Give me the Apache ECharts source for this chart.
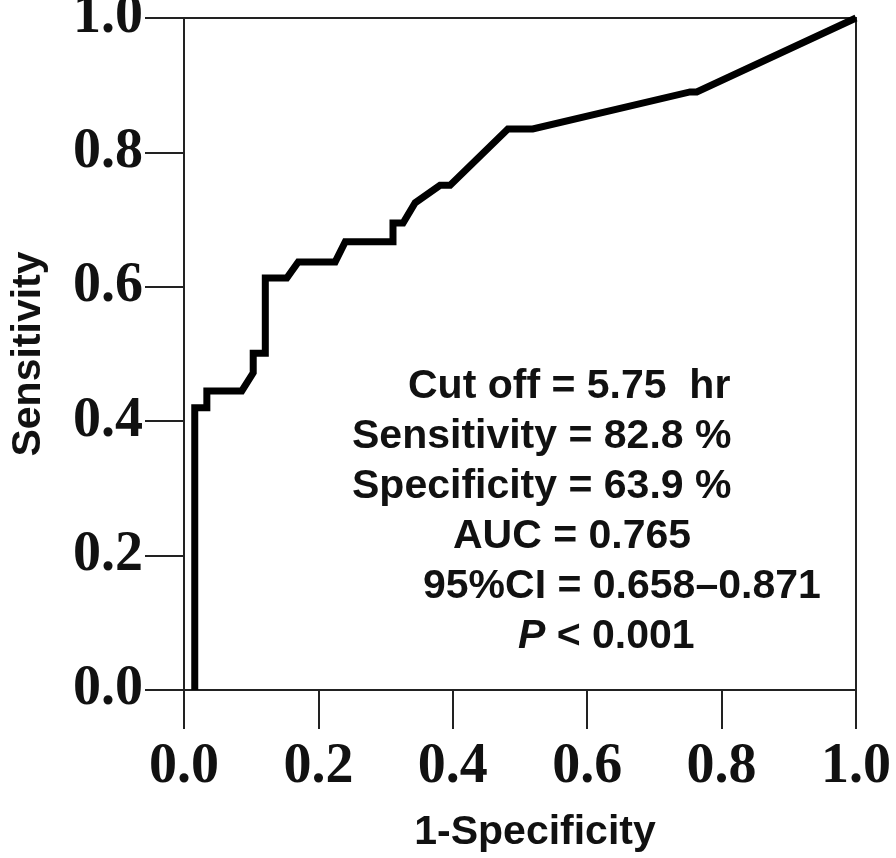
<!DOCTYPE html>
<html>
<head>
<meta charset="utf-8">
<script src="https://cdn.jsdelivr.net/npm/echarts@6/dist/echarts.min.js"></script>
<style>html,body{margin:0;padding:0;background:#fff}#c{width:896px;height:858px}</style>
</head>
<body>
<div id="c"></div>
<script>
// ROC curve points: 1-Specificity (x) and Sensitivity (y)
const fpr = [0.016, 0.016, 0.034, 0.034, 0.086, 0.103, 0.103, 0.121, 0.121, 0.153, 0.170, 0.225, 0.240, 0.311, 0.311, 0.326, 0.344, 0.381, 0.396, 0.482, 0.519, 0.753, 0.763, 1.0];
const tpr = [0, 0.420, 0.420, 0.445, 0.445, 0.472, 0.501, 0.501, 0.613, 0.613, 0.637, 0.637, 0.667, 0.667, 0.695, 0.695, 0.725, 0.751, 0.751, 0.835, 0.835, 0.890, 0.890, 1.0];
const tickValues = [0, 0.2, 0.4, 0.6, 0.8, 1.0];
const xTitle = '1-Specificity';
const yTitle = 'Sensitivity';
const statLines = [
  'Cut off = 5.75  hr',
  'Sensitivity = 82.8 %',
  'Specificity = 63.9 %',
  'AUC = 0.765',
  '95%CI = 0.658\u20130.871',
  '{i|P} < 0.001'
];

const statPos = [[408, 387], [352, 437], [352, 487], [453, 537], [423, 587], [518, 637]];

const chart = echarts.init(document.getElementById('c'), null, {renderer: 'canvas'});
const sans = '"Liberation Sans", Arial, sans-serif';
const serif = '"Liberation Serif", "Times New Roman", serif';
const tickFmt = v => v.toFixed(1);

const axisCommon = {
  type: 'value', min: 0, max: 1, interval: 0.2,
  splitLine: {show: false},
  axisLine: {show: true, lineStyle: {color: '#222', width: 2}},
  axisTick: {show: true, length: 39, lineStyle: {color: '#222', width: 2}},
  nameLocation: 'middle',
  nameTextStyle: {fontFamily: sans, fontWeight: 'bold', fontSize: 41, color: '#111'}
};

chart.setOption({
  backgroundColor: '#fff',
  animation: false,
  grid: {left: 184, right: 40, top: 18, bottom: 168, containLabel: false, outerBoundsMode: 'none',
         show: true, borderColor: '#222', borderWidth: 2, backgroundColor: 'transparent'},
  xAxis: Object.assign({}, axisCommon, {
    name: xTitle, nameGap: 122,
    nameTextStyle: Object.assign({}, axisCommon.nameTextStyle, {padding: [0, 0, 0, 30]}),
    axisLabel: {formatter: tickFmt, fontFamily: serif, fontWeight: 'bold', fontSize: 56, color: '#111', margin: 50, showMinLabel: true, showMaxLabel: true}
  }),
  yAxis: Object.assign({}, axisCommon, {
    name: yTitle, nameGap: 135,
    axisLabel: {formatter: tickFmt, fontFamily: serif, fontWeight: 'bold', fontSize: 56, color: '#111', margin: 41, showMinLabel: true, showMaxLabel: true}
  }),
  series: [{
    type: 'line',
    data: fpr.map((x, i) => [x, tpr[i]]),
    symbol: 'none',
    clip: false,
    lineStyle: {color: '#000', width: 7, join: 'miter', cap: 'butt'}
  }],
  graphic: statLines.map((t, i) => ({
    type: 'text',
    x: statPos[i][0], y: statPos[i][1],
    style: {
      text: t,
      fontFamily: sans, fontWeight: 'bold', fontSize: 41, fill: '#111',
      textAlign: 'left', textVerticalAlign: 'middle',
      rich: {i: {fontFamily: sans, fontWeight: 'bold', fontStyle: 'italic', fontSize: 41, fill: '#111'}}
    }
  }))
});
</script>
</body>
</html>
